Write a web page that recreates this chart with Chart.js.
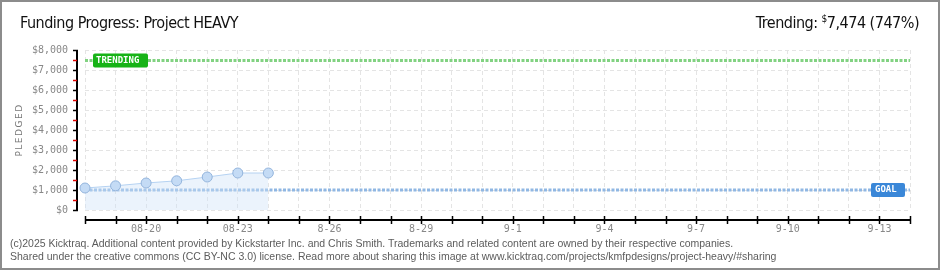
<!DOCTYPE html>
<html><head><meta charset="utf-8">
<script src="https://cdn.jsdelivr.net/npm/chart.js@4/dist/chart.umd.min.js"></script>
<style>
html,body{margin:0;padding:0;background:#fff;}
#wrap{position:relative;width:940px;height:270px;box-sizing:border-box;border:2px solid #8c8c8c;background:#fff;overflow:hidden;}
#c{position:absolute;left:-2px;top:-2px;}
#title{position:absolute;left:18px;top:11px;font-family:"DejaVu Sans Condensed",sans-serif;font-stretch:condensed;font-size:16px;letter-spacing:-0.5px;color:#111;white-space:nowrap;}
#trend{position:absolute;right:19px;top:11px;font-family:"DejaVu Sans Condensed",sans-serif;font-stretch:condensed;font-size:16px;letter-spacing:-0.5px;color:#111;white-space:nowrap;}
#trend sup{font-size:10px;vertical-align:6px;}
#foot{position:absolute;left:8px;top:235px;font-family:"Liberation Sans",sans-serif;font-size:10.5px;line-height:13px;color:#5c5c5c;white-space:nowrap;}
</style></head>
<body>
<div id="wrap">
<canvas id="c" width="940" height="270"></canvas>
<div id="title">Funding Progress: Project HEAVY</div>
<div id="trend">Trending: <sup>$</sup>7,474 (747%)</div>
<div id="foot">(c)2025 Kicktraq. Additional content provided by Kickstarter Inc. and Chris Smith. Trademarks and related content are owned by their respective companies.<br>Shared under the creative commons (CC BY-NC 3.0) license. Read more about sharing this image at www.kicktraq.com/projects/kmfpdesigns/project-heavy/#sharing</div>
</div>
<script>
const categories = ['08-18','08-19','08-20','08-21','08-22','08-23','08-24','08-25','8-26','8-27','8-28','8-29','8-30','8-31','9-1','9-2','9-3','9-4','9-5','9-6','9-7','9-8','9-9','9-10','9-11','9-12','9-13','9-14'];
const shownTicks = ['08-20','08-23','8-26','8-29','9-1','9-4','9-7','9-10','9-13'];
const pledged = [1100, 1210, 1350, 1460, 1650, 1850, 1850];
const goalValue = 1000;
const trendingValue = 7474;
const yTicks = [0,1000,2000,3000,4000,5000,6000,7000,8000];

const goalSeries = categories.map(() => goalValue);
const trendSeries = categories.map(() => trendingValue);

function roundRect(ctx, x, y, w, h, r) {
  ctx.beginPath();
  ctx.moveTo(x + r, y);
  ctx.lineTo(x + w - r, y); ctx.quadraticCurveTo(x + w, y, x + w, y + r);
  ctx.lineTo(x + w, y + h - r); ctx.quadraticCurveTo(x + w, y + h, x + w - r, y + h);
  ctx.lineTo(x + r, y + h); ctx.quadraticCurveTo(x, y + h, x, y + h - r);
  ctx.lineTo(x, y + r); ctx.quadraticCurveTo(x, y, x + r, y);
  ctx.closePath();
}

const decor = {
  id: 'decor',
  afterDatasetsDraw(chart) {
    const ctx = chart.ctx, ys = chart.scales.y, xs = chart.scales.x, a = chart.chartArea;
    ctx.save();
    const axX = a.left - 8;
    ctx.strokeStyle = '#000'; ctx.lineWidth = 2;
    ctx.beginPath(); ctx.moveTo(axX, ys.getPixelForValue(8000)); ctx.lineTo(axX, ys.getPixelForValue(0)); ctx.stroke();
    for (let v = 0; v <= 8000; v += 500) {
      const y = Math.round(ys.getPixelForValue(v)) + 0.5;
      ctx.lineWidth = 1.5;
      ctx.strokeStyle = v % 1000 === 0 ? '#000' : '#e00000';
      ctx.beginPath(); ctx.moveTo(axX - 4, y); ctx.lineTo(axX + (v % 1000 === 0 ? 1 : 0), y); ctx.stroke();
    }
    const axY = a.bottom + 10;
    ctx.strokeStyle = '#000'; ctx.lineWidth = 2;
    ctx.beginPath(); ctx.moveTo(a.left, axY); ctx.lineTo(a.right, axY); ctx.stroke();
    ctx.lineWidth = 1.5;
    categories.forEach((c, i) => {
      const x = Math.round(xs.getPixelForValue(i)) + 0.5;
      ctx.beginPath(); ctx.moveTo(x, axY - 4); ctx.lineTo(x, axY + 4); ctx.stroke();
    });
    ctx.save();
    ctx.translate(20, (a.top + a.bottom) / 2);
    ctx.rotate(-Math.PI / 2);
    ctx.fillStyle = '#777';
    ctx.font = '9px "DejaVu Sans"';
    ctx.textAlign = 'center'; ctx.textBaseline = 'middle';
    if ('letterSpacing' in ctx) ctx.letterSpacing = '1.5px';
    ctx.fillText('PLEDGED', 0, 0);
    ctx.restore();
    ctx.font = 'bold 9px "DejaVu Sans Mono"';
    ctx.textBaseline = 'middle';
    const ty = ys.getPixelForValue(trendingValue);
    ctx.fillStyle = '#17b317';
    roundRect(ctx, a.left + 8, ty - 7, 55, 14, 2); ctx.fill();
    ctx.fillStyle = '#fff'; ctx.textAlign = 'left';
    ctx.fillText('TRENDING', a.left + 11, ty);
    const gy = ys.getPixelForValue(goalValue);
    ctx.fillStyle = '#3a87d8';
    roundRect(ctx, a.right - 39, gy - 7, 34, 14, 2); ctx.fill();
    ctx.fillStyle = '#fff';
    ctx.fillText('GOAL', a.right - 35, gy);
    ctx.restore();
  }
};

new Chart(document.getElementById('c'), {
  type: 'line',
  data: {
    labels: categories,
    datasets: [
      { data: pledged, borderColor: '#b5d2f2', borderWidth: 1, backgroundColor: 'rgba(205,225,248,0.4)', fill: 'origin',
        pointRadius: 5, pointBackgroundColor: '#c4dbf5', pointBorderColor: '#93b4dc', pointBorderWidth: 1, tension: 0 },
      { data: goalSeries, borderColor: '#90b7e3', borderWidth: 3, borderDash: [3, 1.5], pointRadius: 0, fill: false },
      { data: trendSeries, borderColor: '#82d282', borderWidth: 3, borderDash: [3, 1.5], pointRadius: 0, fill: false }
    ]
  },
  options: {
    responsive: false,
    animation: false,
    events: [],
    layout: { padding: { left: 0, right: 30, top: 50, bottom: 0 } },
    plugins: { legend: { display: false }, tooltip: { enabled: false } },
    scales: {
      x: {
        offset: false,
        afterFit(s) { s.height = 60; },
        grid: { color: '#e4e4e4', drawTicks: false },
        border: { display: false, dash: [4, 3] },
        ticks: { autoSkip: false, maxRotation: 0, padding: 13, color: '#888', font: { family: '"DejaVu Sans Mono"', size: 10 },
          callback(v, i) { const l = categories[i]; return shownTicks.includes(l) ? l : ''; } }
      },
      y: {
        min: 0, max: 8000,
        afterFit(s) { s.width = 85; },
        afterBuildTicks(s) { s.ticks = yTicks.map(v => ({ value: v })); },
        grid: { color: '#e4e4e4', drawTicks: false },
        border: { display: false, dash: [4, 3] },
        ticks: { padding: 17, color: '#888', font: { family: '"DejaVu Sans Mono"', size: 10 },
          callback(v) { return '$' + v.toLocaleString('en-US'); } }
      }
    }
  },
  plugins: [decor]
});
</script>
</body></html>
